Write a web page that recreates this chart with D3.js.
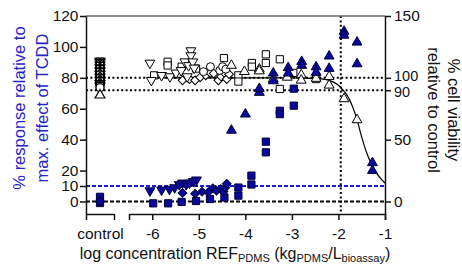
<!DOCTYPE html>
<html>
<head>
<meta charset="utf-8">
<script src="https://cdn.jsdelivr.net/npm/d3@7"></script>
<style>
body { margin: 0; background: #fff; }
text { font-family: "Liberation Sans", Arial, sans-serif; }
</style>
</head>
<body>
<svg id="chart" width="462" height="267"></svg>
<script>
// ---- data ----
// x = log concentration REF_PDMS, y = % response (left axis, filled marks)
var respTri = [[-4.3,46],[-4.0,56.5],[-3.7,70.5],[-3.7,73],[-3.4,83],[-3.4,78],[-3.08,86.5],[-3.08,83],
               [-2.79,90.5],[-2.79,88],[-2.48,87],[-2.48,83.5],[-2.2,94],[-2.2,86],[-1.88,110],[-1.88,107.5],
               [-1.6,103],[-1.6,89],[-1.27,25],[-1.27,20]];
var respSq = [[-5.98,-1.2],[-5.66,-1.2],[-5.37,-0.3],[-5.06,0.3],[-4.76,1.6],[-4.45,2.6],[-4.15,9],[-4.15,3.8],
              [-3.87,16.7],[-3.87,11],[-3.56,38.7],[-3.56,31.8],[-3.26,58.7],[-3.26,56.5],[-2.96,62],[-2.96,73]];
var respInvTri = [[-6.05,7],[-5.8,7.5],[-5.63,8],[-5.52,9],[-5.42,11],[-5.35,12],[-5.27,11],[-5.2,12],
                  [-5.12,13],[-5.05,14]];
var respDia = [[-5.35,5.5],[-5.08,5],[-4.93,6.3],[-4.8,6],[-4.7,8.5],[-4.62,7],[-4.53,8],[-4.47,6.5],
               [-4.43,9],[-4.4,11.5]];
var ctrlRespSq = [3, -1];
var ctrlRespDia = [0];

// y = % cell viability (right axis, open marks)
var viaInvTri = [[-6.05,112],[-6.02,98],[-5.8,102],[-5.62,101],[-5.49,104],[-5.38,106],[-5.3,113],[-5.25,101],
                 [-5.22,110],[-5.17,122],[-5.17,118],[-5.13,113],[-5.1,108]];
var viaSq = [[-5.96,102],[-5.67,113],[-5.67,110],[-5.37,109],[-5.06,107.5],[-4.46,116],[-4.15,102],[-4.15,97],
             [-3.86,112],[-3.86,109],[-3.56,119],[-3.56,112],[-3.26,115],[-3.26,91],[-2.97,104],[-2.48,99]];
var viaTri = [[-4.3,110],[-4.02,105],[-3.7,107],[-3.7,105.5],[-3.4,99],[-3.1,100.4],[-2.8,102.3],[-2.8,98],
              [-2.48,99.5],[-2.2,101],[-2.2,94],[-1.88,83],[-1.6,66]];
var viaDia = [[-5.35,98],[-5.2,99],[-5.08,98],[-4.97,100.5],[-4.85,102],[-4.75,104],[-4.68,103.5],[-4.58,98],
              [-4.52,101],[-4.45,104],[-4.4,99],[-4.35,103]];
var viaCirc = [[-4.9,105],[-4.75,109],[-4.55,106],[-4.49,109],[-4.42,107]];
var ctrlViaInvTri = [113.5, 112.5, 110.5, 108, 105.5, 103, 100.5, 98, 95.5, 93.5];
var ctrlViaSq = [113, 111.5, 109.5, 107, 104.5, 102, 99.5, 97, 94.5, 93];
var ctrlViaDia = [112, 110, 108.5, 106, 103.5, 101, 98.5, 96, 94];
var ctrlViaCirc = [111, 107.5, 105, 102.5, 100, 97.5, 95, 92];
var ctrlViaTri = [86];

// fitted viability curve
var curveX = [-6, -3, -2.5, -2.2, -2.0, -1.9, -1.8, -1.7, -1.6, -1.5, -1.4, -1.3, -1.2, -1.1, -1.0];
var curveY = [100, 100, 99.5, 98, 94, 90, 85, 77, 66, 52, 40, 31, 24, 19, 15];

// reference lines
var viaRefs = [100, 90];
var respRefs = [10, 0];
var cutoffLog = -1.95;

var leftTicks = [0, 10, 20, 40, 60, 80, 100, 120];
var rightTicks = [0, 50, 90, 100, 150];
var xTicks = [-6, -5, -4, -3, -2, -1];

// ---- chart ----
var svg = d3.select("#chart");
var blue = "#0808a0", blueLine = "#1a1ad6", blueText = "#2323c8";

var x = d3.scaleLinear().domain([-6.5, -1]).range([129, 385]);
var xc = d3.scalePoint().domain(["control"]).range([86, 114]);
var yL = d3.scaleLinear().domain([-8.1, 120]).range([214, 16]);
var yR = d3.scaleLinear().domain([-10.1, 150]).range([214, 16]);

// reference lines
svg.selectAll(".vref").data(viaRefs).enter().append("line")
    .attr("x1", 86).attr("x2", 385)
    .attr("y1", function (d) { return yR(d); })
    .attr("y2", function (d) { return yR(d); })
    .attr("stroke", "#000").attr("stroke-width", 2).attr("stroke-dasharray", "2,2.4");

svg.selectAll(".rref").data(respRefs).enter().append("line")
    .attr("x1", 86).attr("x2", 385)
    .attr("y1", function (d) { return yL(d); })
    .attr("y2", function (d) { return yL(d); })
    .attr("stroke", function (d) { return d === 0 ? "#000" : blueLine; })
    .attr("stroke-width", 2).attr("stroke-dasharray", "4,2");

svg.append("line")
    .attr("x1", x(cutoffLog)).attr("x2", x(cutoffLog))
    .attr("y1", 16).attr("y2", 214)
    .attr("stroke", "#000").attr("stroke-width", 2).attr("stroke-dasharray", "2,2.4");

// curve
var curvePts = curveX.map(function (v, i) { return [v, curveY[i]]; });
svg.append("path")
    .datum(curvePts)
    .attr("fill", "none").attr("stroke", "#000").attr("stroke-width", 1.2)
    .attr("d", d3.line()
        .x(function (d) { return x(d[0]); })
        .y(function (d) { return yR(d[1]); })
        .curve(d3.curveMonotoneX));

// markers
function shape(kind) {
    if (kind === "tri" || kind === "inv") return d3.symbol().type(d3.symbolTriangle).size(42)();
    if (kind === "sq") return d3.symbol().type(d3.symbolSquare).size(52)();
    if (kind === "dia") return d3.symbol().type(d3.symbolSquare).size(38)();
    return d3.symbol().type(d3.symbolCircle).size(50)();
}
function rot(kind) {
    if (kind === "inv") return " rotate(180)";
    if (kind === "dia") return " rotate(45)";
    return "";
}
function drawMarks(data, kind, px, py, filled) {
    svg.append("g").selectAll("path").data(data).enter().append("path")
        .attr("d", shape(kind))
        .attr("transform", function (d) { return "translate(" + px(d) + "," + py(d) + ")" + rot(kind); })
        .attr("fill", filled ? blue : "#fff")
        .attr("stroke", filled ? "#00003a" : "#000")
        .attr("stroke-width", 1);
}
function onX(d) { return x(d[0]); }
function onCtrl() { return xc("control"); }

// open control marks: one stack, drawn top to bottom so the outlines pile up
var ctrlStack = [];
[["inv", ctrlViaInvTri], ["sq", ctrlViaSq], ["dia", ctrlViaDia], ["circ", ctrlViaCirc], ["tri", ctrlViaTri]]
    .forEach(function (s) { s[1].forEach(function (v) { ctrlStack.push({kind: s[0], v: v}); }); });
ctrlStack.sort(function (a, b) { return b.v - a.v; });
svg.append("g").selectAll("path").data(ctrlStack).enter().append("path")
    .attr("d", function (d) { return shape(d.kind); })
    .attr("transform", function (d) { return "translate(" + onCtrl() + "," + yR(d.v) + ")" + rot(d.kind); })
    .attr("fill", "#fff").attr("stroke", "#000").attr("stroke-width", 1.2);

// open (viability, right axis)
drawMarks(viaDia, "dia", onX, function (d) { return yR(d[1]); }, false);
drawMarks(viaCirc, "circ", onX, function (d) { return yR(d[1]); }, false);
drawMarks(viaSq, "sq", onX, function (d) { return yR(d[1]); }, false);
drawMarks(viaInvTri, "inv", onX, function (d) { return yR(d[1]); }, false);
drawMarks(viaTri, "tri", onX, function (d) { return yR(d[1]); }, false);

// filled (response, left axis)
drawMarks(ctrlRespSq, "sq", onCtrl, function (d) { return yL(d); }, true);
drawMarks(ctrlRespDia, "dia", onCtrl, function (d) { return yL(d); }, true);
drawMarks(respSq, "sq", onX, function (d) { return yL(d[1]); }, true);
drawMarks(respInvTri, "inv", onX, function (d) { return yL(d[1]); }, true);
drawMarks(respDia, "dia", onX, function (d) { return yL(d[1]); }, true);
drawMarks(respTri, "tri", onX, function (d) { return yL(d[1]); }, true);

// axes
function styleAxis(g) {
    g.selectAll(".domain").attr("stroke", "#111").attr("stroke-width", 1.5);
    g.selectAll(".tick line").attr("stroke", "#111").attr("stroke-width", 1.5);
    g.selectAll("text").attr("font-size", "15.5px").attr("fill", "#111")
        .attr("font-family", "'Liberation Sans', Arial, sans-serif");
}

svg.append("line").attr("x1", 86).attr("x2", 385).attr("y1", 16).attr("y2", 16)
    .attr("stroke", "#666").attr("stroke-width", 1.5);

svg.append("g").attr("transform", "translate(86,0)")
    .call(d3.axisLeft(yL).tickValues(leftTicks).tickSize(6).tickPadding(1.5).tickSizeOuter(0))
    .call(styleAxis);

var rAxis = svg.append("g").attr("transform", "translate(385,0)")
    .call(d3.axisRight(yR).tickValues(rightTicks).tickSize(6).tickPadding(3).tickSizeOuter(0))
    .call(styleAxis);
// 100 and 90 sit very close: nudge them apart a little
rAxis.selectAll(".tick text")
    .attr("dy", function (d) { return d === 100 ? "0.2em" : (d === 90 ? "0.42em" : "0.32em"); })
    .attr("font-size", function (d) { return (d === 100 || d === 90) ? "14.5px" : "15.5px"; });

svg.append("g").attr("transform", "translate(0,214)")
    .call(d3.axisBottom(x).tickValues(xTicks).tickFormat(d3.format("d")).tickSize(6).tickPadding(8).tickSizeOuter(6))
    .call(styleAxis);

svg.append("g").attr("transform", "translate(0,214)")
    .call(d3.axisBottom(xc).tickSize(0).tickPadding(14).tickSizeOuter(6))
    .call(styleAxis);

// plain hyphen minus signs like the original
svg.selectAll(".tick text").text(function () { return d3.select(this).text().replace("\u2212", "-"); });

// axis titles
svg.append("text")
    .attr("transform", "translate(25,108) rotate(-90)")
    .attr("text-anchor", "middle").attr("font-size", "16.5px").attr("fill", blueText)
    .text("% response relative to");
svg.append("text")
    .attr("transform", "translate(48,108) rotate(-90)")
    .attr("text-anchor", "middle").attr("font-size", "16.5px").attr("fill", blueText)
    .text("max. effect of TCDD");

svg.append("text")
    .attr("transform", "translate(448,110) rotate(90)")
    .attr("text-anchor", "middle").attr("font-size", "16.5px").attr("fill", "#111")
    .text("% cell viability");
svg.append("text")
    .attr("transform", "translate(428,110) rotate(90)")
    .attr("text-anchor", "middle").attr("font-size", "16.5px").attr("fill", "#111")
    .text("relative to control");

var xt = svg.append("text")
    .attr("x", 235).attr("y", 259)
    .attr("text-anchor", "middle").attr("font-size", "16px").attr("fill", "#111");
xt.append("tspan").text("log concentration REF");
xt.append("tspan").attr("font-size", "11px").attr("dy", 3).text("PDMS");
xt.append("tspan").attr("dy", -3).text(" (kg");
xt.append("tspan").attr("font-size", "11px").attr("dy", 3).text("PDMS");
xt.append("tspan").attr("dy", -3).text("/L");
xt.append("tspan").attr("font-size", "11px").attr("dy", 3).text("bioassay");
xt.append("tspan").attr("dy", -3).text(")");
</script>
</body>
</html>
